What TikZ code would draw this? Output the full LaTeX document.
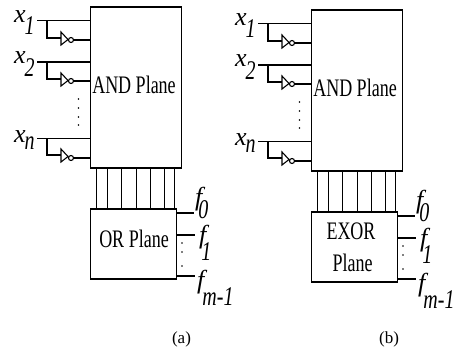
\documentclass[tikz,border=0pt]{standalone}
\usepackage{fontspec}
\setmainfont{Liberation Serif}
\usepackage{graphicx}
\usetikzlibrary{calc}
\newcommand{\lbl}[1]{\fontsize{26}{26}\selectfont\itshape #1}
\newcommand{\subl}[2]{\raisebox{-#1pt}{\scalebox{1}[1.35]{\fontsize{20}{20}\selectfont\itshape #2}}}
\newcommand{\planetxt}[1]{\scalebox{1}[1.4]{\fontsize{18}{18}\selectfont #1}}
\tikzset{
  x=1pt,y=-1pt,
  wire/.style={line width=1.7pt,line cap=butt},
  thinwire/.style={line width=1.2pt},
  plane/.style={draw,line width=1.6pt,rectangle,inner sep=0pt,minimum width=#1,anchor=north west},
  dotm/.style={circle,fill,inner sep=0pt,minimum size=1.9pt},
  lab/.style={inner sep=0pt,anchor=base west},
  captext/.style={inner sep=0pt,font=\fontsize{17}{17}\selectfont},
}
\newcommand{\inputrow}[4]{% id, main y, tap y, output y
  \coordinate (i#1) at (37,#2);
  \coordinate (b#1) at (47,#2);
  \coordinate (k#1) at (47,#3);
  \coordinate (g#1) at (61,#3);
  \coordinate (o#1) at (74,#4);
  \draw[wire] (i#1) -- (and.west |- i#1);
  \draw[wire] (b#1) -- (k#1) -- (g#1);
  \draw[line width=1.1pt] ($(g#1)+(0,-6)$) -- ($(g#1)+(0,7)$) -- ($(g#1)+(7,1.5)$) -- cycle;
  \node[draw,circle,line width=1.1pt,inner sep=0pt,minimum size=5pt] (n#1) at ($(o#1)+(-3,0)$) {};
  \draw[wire] (o#1) -- (and.west |- o#1);
}
\newcommand{\panel}[3]{%
  \node[plane=91pt,minimum height=161pt] (and) at (89.5,6) {};
  \node[inner sep=0pt] (andt) at (134,85) {\planetxt{AND Plane}};
  \inputrow{1}{20.5}{38}{40}
  \inputrow{2}{62}{79}{81}
  \inputrow{3}{138.5}{155}{158}
  \node[lab] (x1) at (14,22) {\lbl{x}\kern-1pt\subl{12}{1}};
  \node[lab] (x2) at (14,63) {\lbl{x}\kern-1pt\subl{13}{2}};
  \node[lab] (x3) at (14,142) {\lbl{x}\kern-1pt\subl{7}{n}};
  \foreach \yy [count=\k] in {99,108,117,125} \node[dotm] (d\k) at (78.5,\yy) {};
  \node[plane=86pt,minimum height=70pt] (low) at (89.5,208) {};
  #1
  \foreach \xx [count=\k] in {96.5,107.5,121.5,136.5,150.5,164.5,174.5}
    \draw[thinwire] (and.south -| \xx,0) -- (low.north -| \xx,0);
  \coordinate (f0) at (194,213);
  \coordinate (f1) at (195,235);
  \coordinate (f2) at (195,276);
  \draw[wire] (low.east |- f0) -- (f0);
  \draw[wire] (low.east |- f1) -- (f1);
  \draw[wire] (low.east |- f2) -- (f2);
  \node[lab] (t0) at (195,205) {\lbl{f}\kern-4pt\subl{13}{0}};
  \node[lab] (t1) at (199,243) {\lbl{f}\kern-5pt\subl{17}{1}};
  \node[lab] (t2) at (197,288) {\lbl{f}\kern-2pt\subl{17}{m-1}};
  \node[dotm] (e1) at (182,243) {};
  \node[dotm] (e2) at (182,252) {};
  \node[dotm] (e3) at (182,266) {};
  \node[captext] (c) at (#2) {#3};
}
\begin{document}
\begin{tikzpicture}
\useasboundingbox (0,0) rectangle (458,349);
\begin{scope}[name prefix=a-]
\panel{\node[inner sep=0pt] (lowt) at (134,239) {\planetxt{OR Plane}};}{181.5,339}{(a)}
\end{scope}
\begin{scope}[shift={(221,3)},name prefix=b-]
\panel{\node[inner sep=0pt] (lowt1) at (130,228) {\planetxt{EXOR}};
  \node[inner sep=0pt] (lowt2) at (131.5,260) {\planetxt{Plane}};}{168,336}{(b)}
\end{scope}
\end{tikzpicture}
\end{document}
